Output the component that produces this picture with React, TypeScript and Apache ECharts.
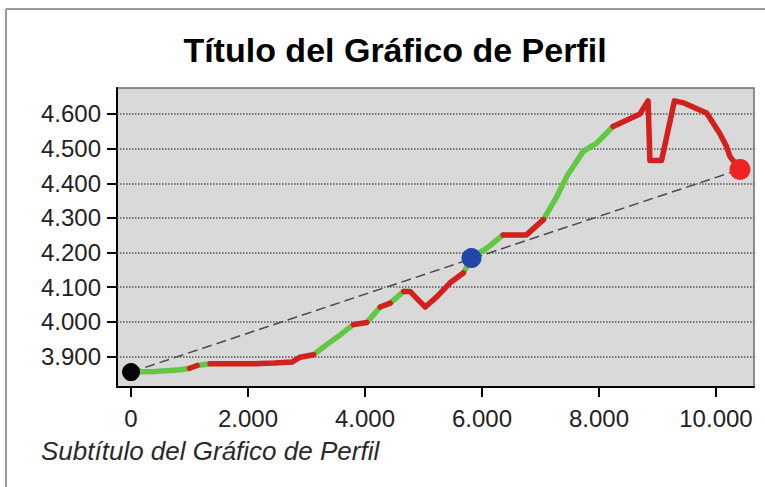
import React, { useEffect, useRef } from "react";
import * as echarts from "echarts";

// Profile distance (m) and elevation (m)
const distances = [
  0, 400, 850, 1000, 1130, 1350, 1700, 2070, 2450, 2750, 2890, 3120, 3350, 3580,
  3800, 4030, 4260, 4430, 4660, 4770, 4900, 5030, 5230, 5450, 5680, 5820, 6100,
  6360, 6760, 7050, 7280, 7450, 7730, 7960, 8240, 8700, 8840, 8870, 9070, 9290,
  9450, 9840, 10060, 10180, 10240, 10410,
];
const elevations = [
  3855, 3857, 3862, 3866, 3874, 3879, 3879, 3879, 3881, 3884, 3898, 3905, 3935,
  3963, 3992, 3998, 4043, 4054, 4088, 4088, 4065, 4043, 4073, 4112, 4141, 4184,
  4215, 4251, 4251, 4295, 4362, 4420, 4492, 4516, 4564, 4600, 4638, 4466, 4466,
  4638, 4632, 4603, 4545, 4506, 4477, 4440,
];
// visibility of each segment (point i -> i+1): 1 visible, 0 not visible
const visibleSegments = [
  1, 1, 1, 0, 1, 0, 0, 0, 0, 0, 0, 1, 1, 1, 0, 1, 0, 1, 0, 0, 0, 0, 0, 0, 1, 1,
  1, 0, 0, 1, 1, 1, 1, 1, 0, 0, 0, 0, 0, 0, 0, 0, 0, 0, 0,
];
const observerPoint = [0, 3855];
const obstructionPoint = [5820, 4184];
const targetPoint = [10410, 4440];

const xTicks = [0, 2000, 4000, 6000, 8000, 10000];
const yTicks = [3900, 4000, 4100, 4200, 4300, 4400, 4500, 4600];

const titleText = "Título del Gráfico de Perfil";
const subtitleText = "Subtítulo del Gráfico de Perfil";

const FONT = "'Liberation Sans', Arial, sans-serif";
const GREEN = "#62c843";
const RED = "#d31f1d";

function fmt(v: number) {
  return String(Math.round(v)).replace(/\B(?=(\d{3})+(?!\d))/g, ".");
}

function buildRuns(flag: number) {
  const out: any[] = [];
  for (let i = 0; i < distances.length - 1; i++) {
    if (visibleSegments[i] === flag) {
      if (i === 0 || visibleSegments[i - 1] !== flag) {
        if (out.length) out.push([distances[i], "-"]);
        out.push([distances[i], elevations[i]]);
      }
      out.push([distances[i + 1], elevations[i + 1]]);
    }
  }
  return out;
}

export default function App() {
  const ref = useRef<HTMLDivElement>(null);

  useEffect(() => {
    if (!ref.current) return;
    const chart = echarts.init(ref.current, undefined, { renderer: "svg" });
    const option: any = {
      animation: false,
      backgroundColor: "#ffffff",
      grid: {
        left: 117,
        right: 11,
        top: 88,
        bottom: 100,
        show: true,
        backgroundColor: "#d9d9d9",
        borderColor: "#6e6e6e",
        borderWidth: 1.5,
      },
      graphic: [
        {
          type: "line",
          shape: { x1: 6, y1: 9, x2: 765, y2: 9 },
          style: { stroke: "#9a9a9a", lineWidth: 2 },
        },
        {
          type: "line",
          shape: { x1: 6, y1: 9, x2: 6, y2: 487 },
          style: { stroke: "#9a9a9a", lineWidth: 2 },
        },
        {
          type: "text",
          x: 395,
          y: 50,
          style: {
            text: titleText,
            font: `bold 34px ${FONT}`,
            fill: "#000000",
            textAlign: "center",
            textVerticalAlign: "middle",
          },
        },
        {
          type: "text",
          x: 41,
          y: 451,
          style: {
            text: subtitleText,
            font: `italic 26px ${FONT}`,
            fill: "#2a2a2a",
            textAlign: "left",
            textVerticalAlign: "middle",
          },
        },
      ],
      xAxis: {
        type: "value",
        min: -240,
        max: 10650,
        axisLine: { show: true, onZero: false, lineStyle: { color: "#000", width: 2 } },
        axisTick: {
          show: true,
          customValues: xTicks,
          length: 10,
          lineStyle: { color: "#000", width: 2 },
        },
        axisLabel: {
          customValues: xTicks,
          formatter: (v: number) => fmt(v),
          fontFamily: FONT,
          fontSize: 24,
          color: "#222",
          margin: 19,
        },
        splitLine: { show: false },
      },
      yAxis: {
        type: "value",
        min: 3812,
        max: 4675,
        axisLine: { show: true, onZero: false, lineStyle: { color: "#000", width: 2 } },
        axisTick: {
          show: true,
          customValues: yTicks,
          length: 10,
          lineStyle: { color: "#000", width: 2 },
        },
        axisLabel: {
          customValues: yTicks,
          formatter: (v: number) => fmt(v),
          fontFamily: FONT,
          fontSize: 24,
          color: "#222",
          margin: 16,
        },
        splitLine: { show: false },
      },
      series: [
        {
          type: "line",
          name: "sight",
          data: [observerPoint, targetPoint],
          showSymbol: false,
          lineStyle: { color: "#4a4a4a", width: 1.5, type: [10, 5] },
          z: 2,
          silent: true,
          markLine: {
            silent: true,
            symbol: ["none", "none"],
            label: { show: false },
            lineStyle: { color: "#555", width: 1.5, type: "dotted" },
            data: yTicks.map((v) => ({ yAxis: v })),
            z: 1,
          },
        },
        {
          type: "line",
          name: "visible",
          data: buildRuns(1),
          showSymbol: false,
          connectNulls: false,
          lineStyle: { color: GREEN, width: 5.5, cap: "round", join: "round" },
          z: 3,
        },
        {
          type: "line",
          name: "hidden",
          data: buildRuns(0),
          showSymbol: false,
          connectNulls: false,
          lineStyle: { color: RED, width: 5.5, cap: "round", join: "round" },
          z: 3,
        },
        {
          type: "scatter",
          name: "points",
          data: [
            { value: observerPoint, symbolSize: 18, itemStyle: { color: "#050505", opacity: 1 } },
            { value: obstructionPoint, symbolSize: 20, itemStyle: { color: "#2446a8", opacity: 1 } },
            { value: targetPoint, symbolSize: 21, itemStyle: { color: "#ee2424", opacity: 1 } },
          ],
          z: 5,
        },
      ],
    };
    chart.setOption(option);
    return () => chart.dispose();
  }, []);

  return (
    <div
      ref={ref}
      style={{ position: "fixed", left: 0, top: 0, width: 765, height: 487 }}
    />
  );
}
